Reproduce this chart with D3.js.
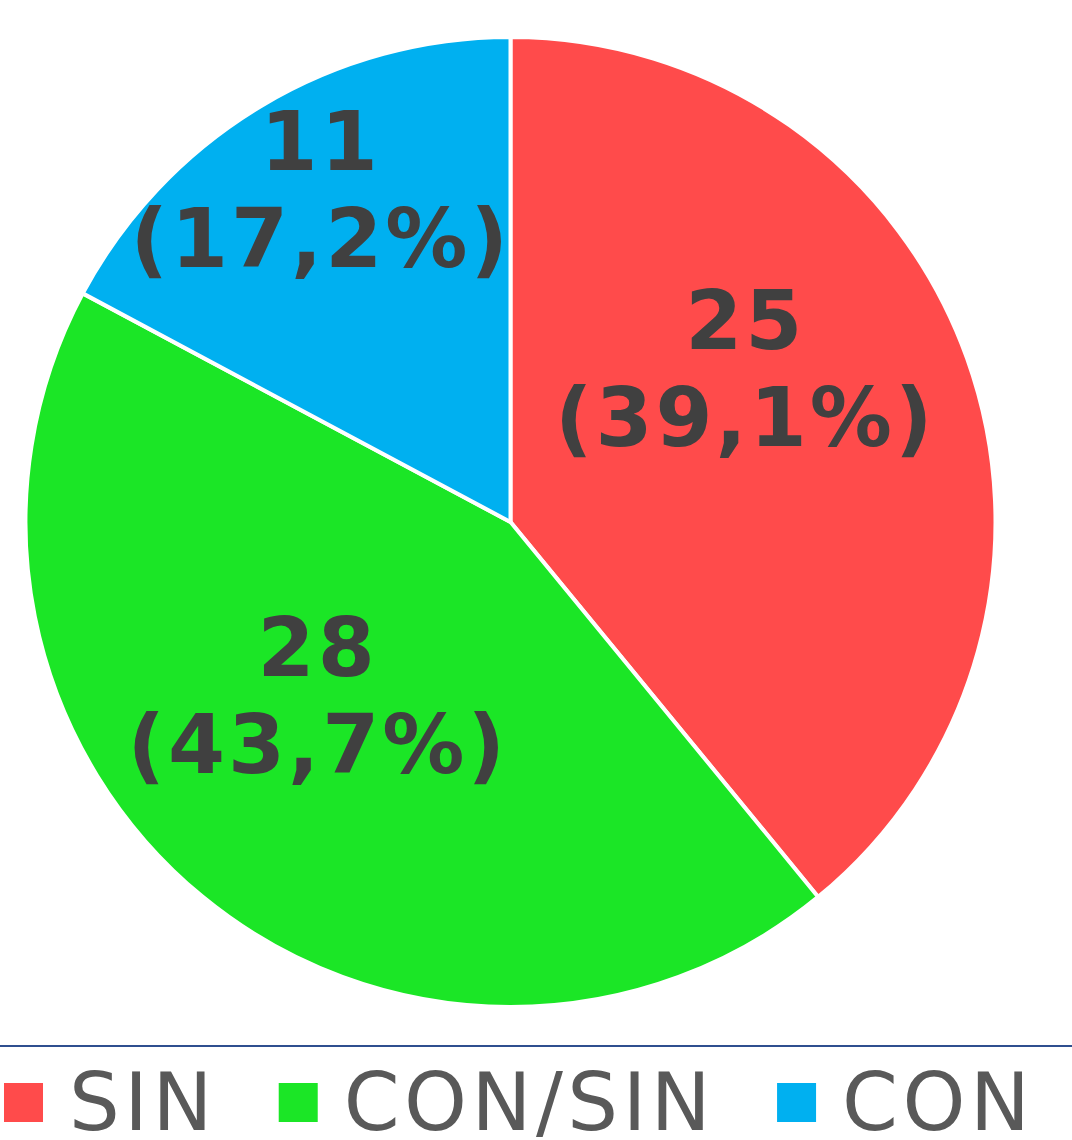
<!DOCTYPE html>
<html>
<head>
<meta charset="utf-8">
<script src="https://cdn.jsdelivr.net/npm/d3@7"></script>
<style>
  html, body { margin: 0; padding: 0; background: #fff; }
  svg { display: block; }
</style>
</head>
<body>
<svg id="chart" width="1072" height="1140"></svg>
<script>
// data
var categories = ["SIN", "CON/SIN", "CON"];
var counts = [25, 28, 11];
var percents = [39.1, 43.7, 17.2];   // as printed in the chart
var colors = ["#ff4b4b", "#1be626", "#00b0f0"];

var width = 1072, height = 1140;
var cx = 510.5, cy = 522, radius = 485;

// small per-slice nudges so the labels sit where the original puts them
var labelNudge = [[-47, -52], [-3, -57], [-36, -75]];

var svg = d3.select("#chart");

var slices = categories.map(function(c, i) {
    return { name: c, value: counts[i], pct: percents[i], color: colors[i], i: i };
});

var pie = d3.pie()
    .sort(null)
    .value(function(d) { return d.value; });

var arc = d3.arc()
    .innerRadius(0)
    .outerRadius(radius);

var labelArc = d3.arc()
    .innerRadius(radius * 0.617)
    .outerRadius(radius * 0.617);

var g = svg.append("g")
    .attr("transform", "translate(" + cx + "," + cy + ")");

var arcs = pie(slices);

g.selectAll("path.slice")
    .data(arcs)
    .enter().append("path")
    .attr("class", "slice")
    .attr("d", arc)
    .attr("fill", function(d) { return d.data.color; })
    .attr("stroke", "#fff")
    .attr("stroke-width", 4)
    .attr("stroke-linejoin", "round");

// Labels: count on first line, percent on second

var labels = g.selectAll("text.label")
    .data(arcs)
    .enter().append("text")
    .attr("class", "label")
    .attr("transform", function(d) {
        var c = labelArc.centroid(d);
        var n = labelNudge[d.data.i];
        return "translate(" + (c[0] + n[0]) + "," + (c[1] + n[1]) + ")";
    })
    .attr("text-anchor", "middle")
    .attr("font-family", "'DejaVu Sans', Verdana, sans-serif")
    .attr("font-weight", "bold")
    .attr("font-size", 82)
    .attr("letter-spacing", 3)
    .attr("fill", "#404040");

labels.append("tspan")
    .attr("x", 0)
    .attr("y", -20)
    .text(function(d) { return d.data.value; });

labels.append("tspan")
    .attr("x", 0)
    .attr("y", 77)
    .text(function(d) { return "(" + d.data.pct.toFixed(1).replace(".", ",") + "%)"; });

// Legend

svg.append("line")
    .attr("x1", 0)
    .attr("x2", width)
    .attr("y1", 1046)
    .attr("y2", 1046)
    .attr("stroke", "#2f4f8f")
    .attr("stroke-width", 2);

var legend = svg.append("g")
    .attr("class", "legend")
    .attr("transform", "translate(4, 1083)");

var box = 39, textGap = 26, itemGap = 62;
var x = 0;
slices.forEach(function(d) {
    var item = legend.append("g").attr("transform", "translate(" + x + ",0)");
    item.append("rect")
        .attr("width", box)
        .attr("height", box)
        .attr("fill", d.color);
    var t = item.append("text")
        .attr("x", box + textGap)
        .attr("y", 47)
        .attr("font-family", "'DejaVu Sans', Verdana, sans-serif")
        .attr("font-size", 80)
        .attr("letter-spacing", 4.5)
        .attr("fill", "#595959")
        .text(d.name);
    x += box + textGap + t.node().getComputedTextLength() + itemGap;
});
</script>
</body>
</html>
